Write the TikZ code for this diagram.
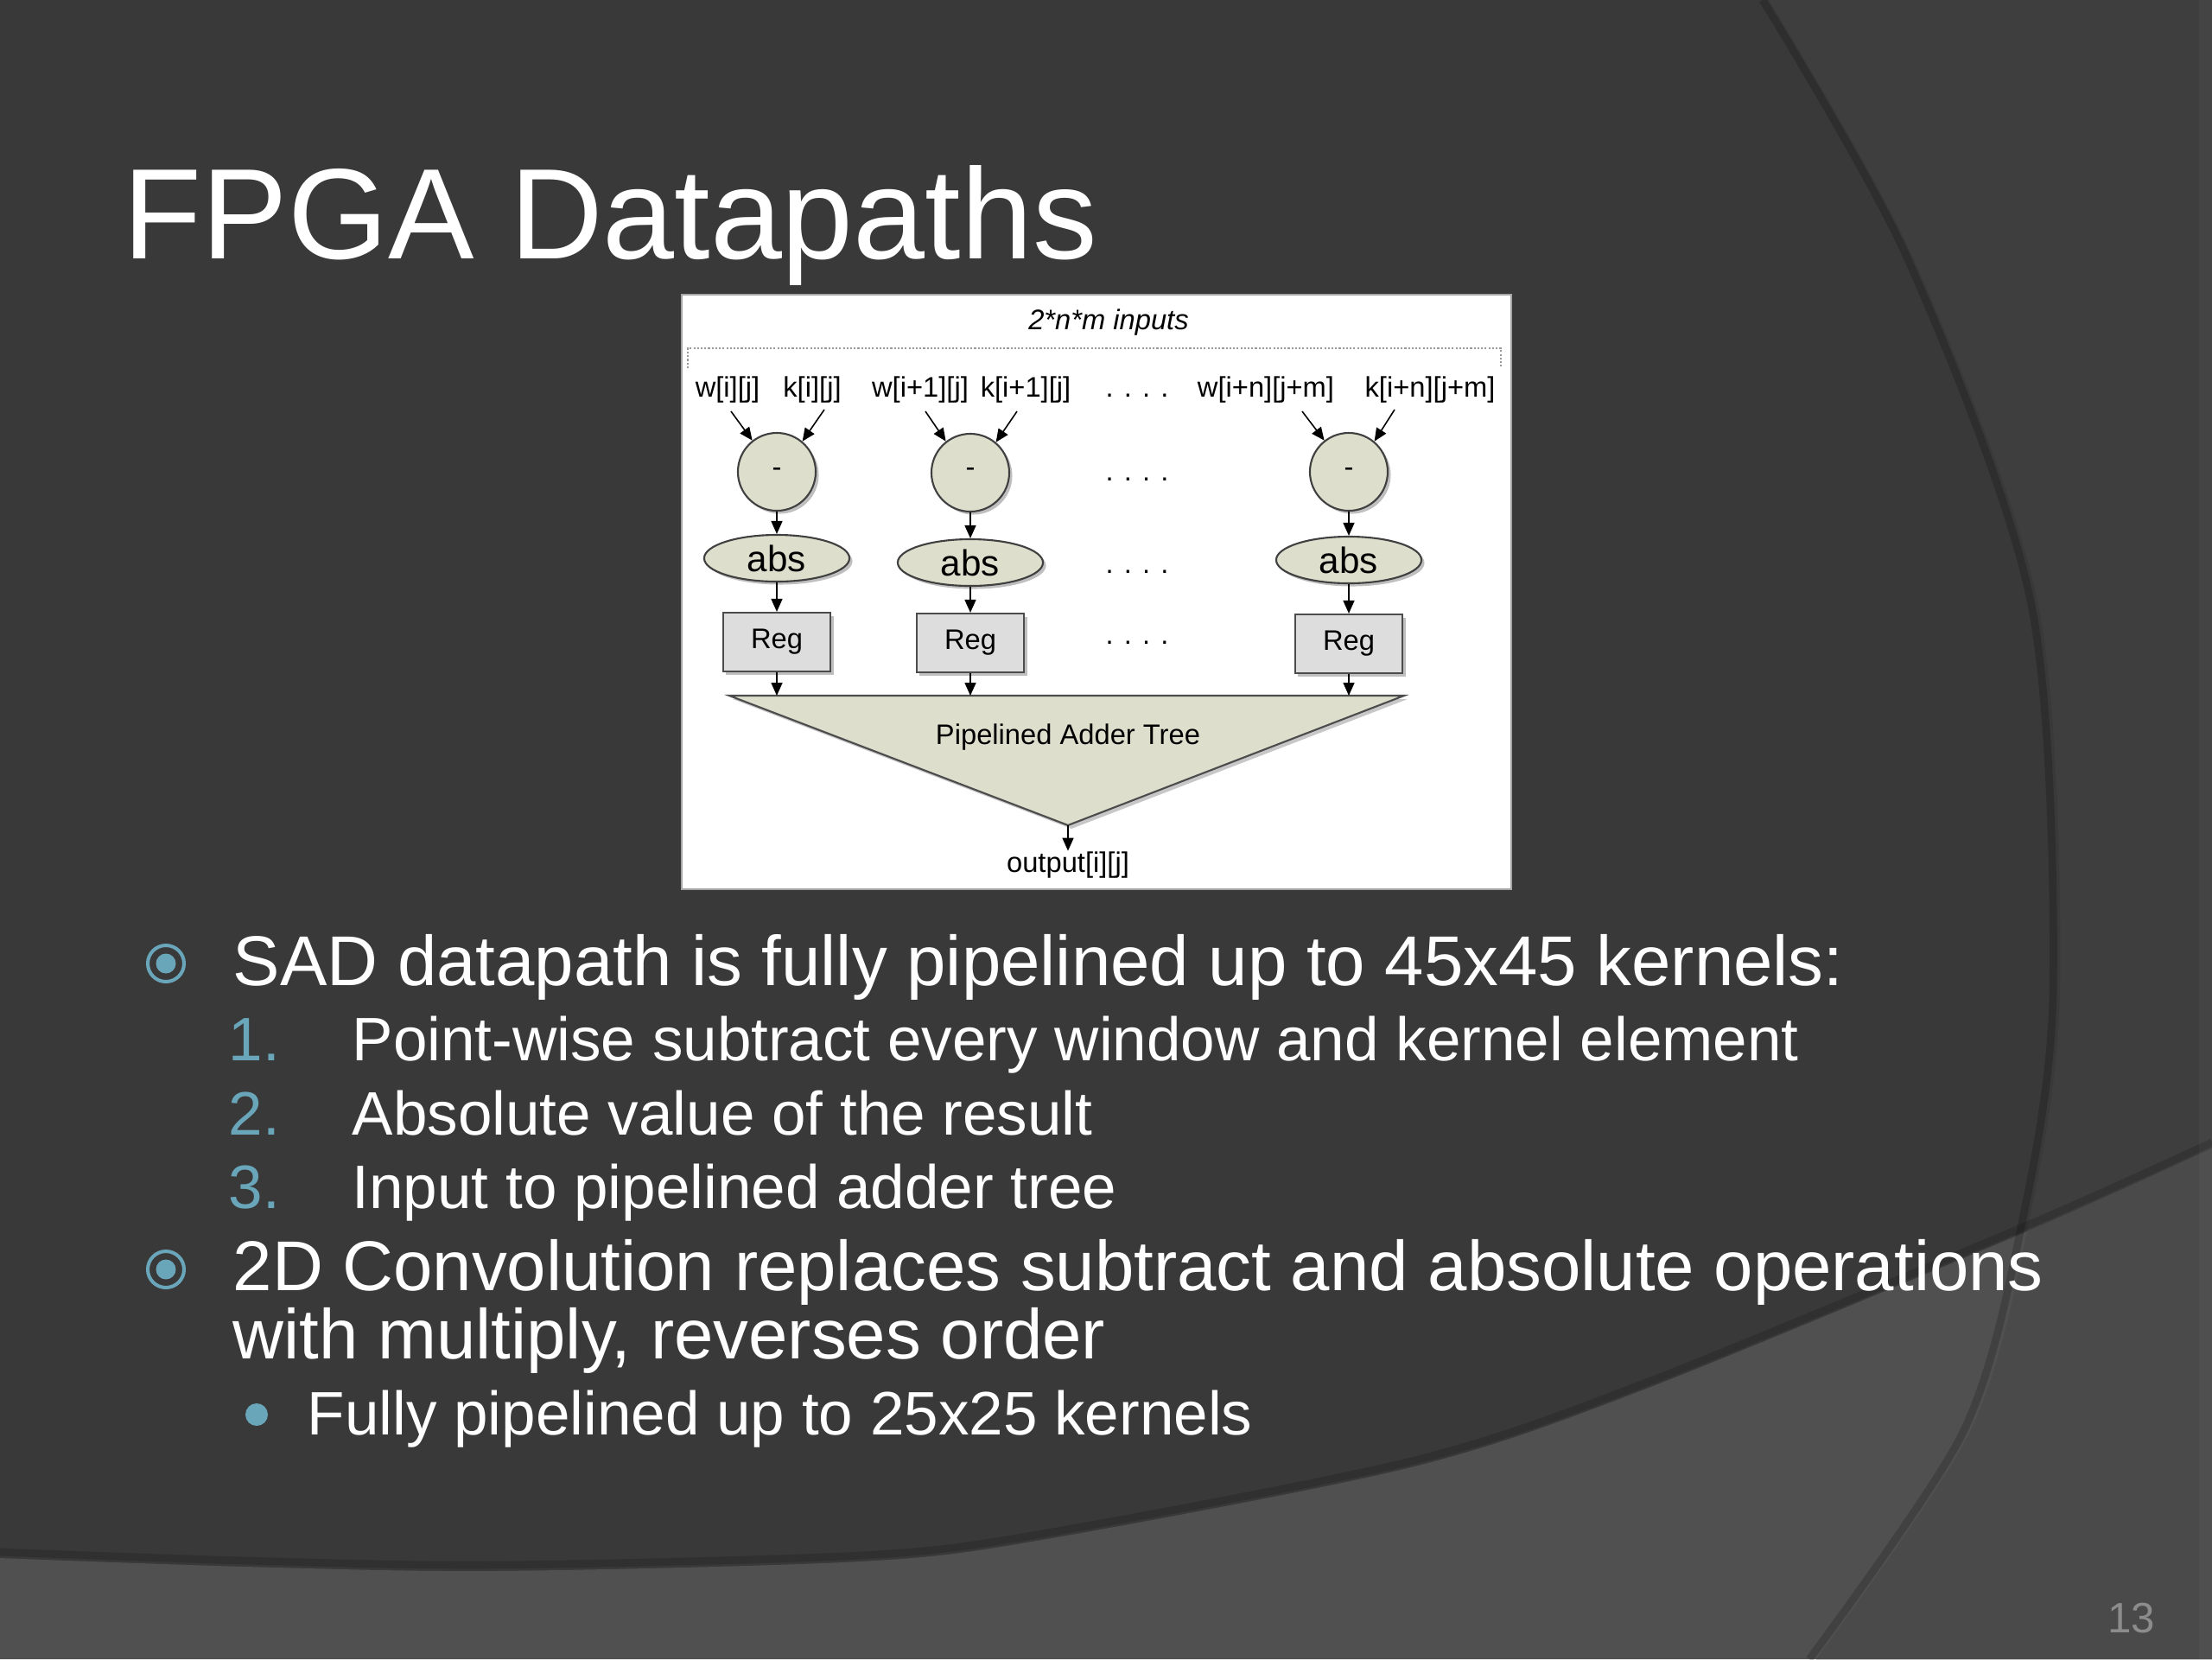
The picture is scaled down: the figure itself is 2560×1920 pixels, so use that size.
\documentclass[tikz,border=0pt]{standalone}
\usepackage{fontspec}
\setmainfont{Liberation Sans}
\usetikzlibrary{arrows.meta,shadows,calc,shapes.geometric}
\definecolor{bgmain}{RGB}{57,57,57}
\definecolor{bgright}{RGB}{62,62,62}
\definecolor{bglow}{RGB}{80,80,80}
\definecolor{bglowr}{RGB}{74,74,74}
\definecolor{accent}{RGB}{106,166,186}
\definecolor{opfill}{RGB}{221,222,204}
\definecolor{regfill}{RGB}{221,221,221}
\definecolor{pgnum}{RGB}{140,140,140}
\tikzset{
  lbl/.style={font=\fontsize{9.3}{11}\selectfont, inner sep=0pt, text=black},
  shad/.style={drop shadow={shadow xshift=0.035cm, shadow yshift=-0.035cm, fill=black!55, opacity=0.45}},
  opc/.style={circle, draw=black!75, line width=0.6pt, fill=opfill, minimum size=0.9cm, inner sep=0pt, font=\fontsize{9.3}{11}\selectfont, shad},
  absn/.style={ellipse, draw=black!75, line width=0.6pt, fill=opfill, minimum width=1.68cm, minimum height=0.54cm, inner sep=0pt, font=\fontsize{12}{14}\selectfont, shad},
  regn/.style={rectangle, draw=black!70, line width=0.6pt, fill=regfill, minimum width=1.24cm, minimum height=0.68cm, inner sep=0pt, font=\fontsize{9.3}{11}\selectfont, shad},
  arr/.style={line width=0.45pt, -{Triangle[length=0.15cm,width=0.13cm]}},
  ttl/.style={font=\fontsize{42.4}{50}\selectfont, text=white, inner sep=0pt, anchor=base west},
  lone/.style={font=\fontsize{23.2}{27}\selectfont, text=white, inner sep=0pt, anchor=base west},
  ltwo/.style={font=\fontsize{20.2}{24}\selectfont, text=white, inner sep=0pt, anchor=base west},
  numl/.style={font=\fontsize{20.2}{24}\selectfont, text=accent, inner sep=0pt, anchor=base west},
  dotrow/.style={lbl, anchor=base}
}
\begin{document}
\begin{tikzpicture}[x=0.01cm,y=-0.01cm]
\useasboundingbox (0,0) rectangle (2560,1920);
% background
\fill[bgmain] (0,0) rectangle (2560,1920);
\def\arcpath{(2047,0) -- plot[smooth] coordinates {(2047,0) (2215,300) (2359,700) (2384,1150) (2346,1425) (2279,1659) (2102,1920)} -- (2560,1920) -- (2560,0) -- cycle}
\def\lowpath{(0,1803) -- plot[smooth] coordinates {(0,1803) (283,1813) (574,1818) (995,1807) (1200,1783) (1633,1698) (1900,1609) (2346,1425) (2560,1329)} -- (2560,1920) -- (0,1920) -- cycle}
\fill[bgright] \arcpath;
\fill[bglow] \lowpath;
\begin{scope}
  \clip \lowpath;
  \fill[bglowr] \arcpath;
\end{scope}
\draw[black, opacity=0.18, line width=2.5pt] plot[smooth] coordinates {(2040,0) (2208,300) (2351,700) (2376,1150) (2338,1425) (2271,1659) (2094,1920)};
\draw[black, opacity=0.15, line width=2.5pt] plot[smooth] coordinates {(0,1796) (283,1806) (574,1811) (995,1800) (1200,1776) (1633,1691) (1900,1602) (2346,1418) (2560,1322)};
\fill[white, opacity=0.03] (2545,0) rectangle (2560,1920);

% title
\node[ttl] (title) at (142,299) {FPGA Datapaths};

% diagram frame
\filldraw[fill=white, draw=black!35, line width=0.5pt] (789,341) rectangle (1749,1029);
\node[lbl, anchor=base, font=\fontsize{9.3}{11}\selectfont\itshape] (inp) at (1283,381) {2*n*m inputs};
\draw[black!40, line width=0.35pt, dash pattern=on 0.6pt off 0.6pt] (796,426) -- (796,403) -- (1737,403) -- (1737,426);

% input labels
\node[lbl, anchor=base] (lw1) at (842,459) {w[i][j]};
\node[lbl, anchor=base] (lk1) at (940,459) {k[i][j]};
\node[lbl, anchor=base] (lw2) at (1065,459) {w[i+1][j]};
\node[lbl, anchor=base] (lk2) at (1187,459) {k[i+1][j]};
\node[dotrow] (d0) at (1316,459) {. . . .};
\node[lbl, anchor=base] (lw3) at (1465,459) {w[i+n][j+m]};
\node[lbl, anchor=base] (lk3) at (1655,459) {k[i+n][j+m]};

% operators
\node[opc] (c1) at (899,546) {-};
\node[opc] (c2) at (1123,547) {-};
\node[opc] (c3) at (1561,546) {-};
\node[dotrow] (d1) at (1316,556) {. . . .};

\node[absn] (a1) at (899,646) {abs};
\node[absn] (a2) at (1123,651) {abs};
\node[absn] (a3) at (1561,648) {abs};
\node[dotrow] (d2) at (1316,663) {. . . .};

\node[regn] (r1) at (899,743) {Reg};
\node[regn] (r2) at (1123,744) {Reg};
\node[regn] (r3) at (1561,745) {Reg};
\node[dotrow] (d3) at (1316,745) {. . . .};

% input arrows
\coordinate (s1a) at (846,476);
\coordinate (s1b) at (954,474);
\coordinate (s2a) at (1071,476);
\coordinate (s2b) at (1177,476);
\coordinate (s3a) at (1507,476);
\coordinate (s3b) at (1614,474);
\draw[arr] (s1a) -- (c1.128);
\draw[arr] (s1b) -- (c1.50);
\draw[arr] (s2a) -- (c2.128);
\draw[arr] (s2b) -- (c2.50);
\draw[arr] (s3a) -- (c3.128);
\draw[arr] (s3b) -- (c3.50);

\foreach \i in {1,2,3}{
  \draw[arr] (c\i.south) -- (a\i.north);
  \draw[arr] (a\i.south) -- (r\i.north);
}

% adder tree
\coordinate (tl) at (844,805);
\coordinate (tr) at (1625,805);
\coordinate (tb) at (1236,955);
\fill[black!55, opacity=0.4] ($(tl)+(4,4)$) -- ($(tr)+(4,4)$) -- ($(tb)+(4,4)$) -- cycle;
\filldraw[fill=opfill, draw=black!70, line width=0.6pt] (tl) -- (tr) -- (tb) -- cycle;
\node[lbl] (tt) at (1236,853) {Pipelined Adder Tree};
\foreach \i in {1,2,3}{
  \draw[arr] (r\i.south) -- (r\i.south |- tl);
}
\node[lbl, anchor=base] (out) at (1236,1009) {output[i][j]};
\draw[arr] (tb) -- (out.north);

% bullets
\draw[accent, line width=1.15pt] (192,1115) circle[radius=21];
\fill[accent] (192,1115) circle[radius=11.5];
\node[lone] (b1) at (269,1140) {SAD datapath is fully pipelined up to 45x45 kernels:};
\node[numl] (n1) at (264,1227) {1.};
\node[ltwo] (i1) at (407,1227) {Point-wise subtract every window and kernel element};
\node[numl] (n2) at (264,1313) {2.};
\node[ltwo] (i2) at (407,1313) {Absolute value of the result};
\node[numl] (n3) at (264,1398) {3.};
\node[ltwo] (i3) at (407,1398) {Input to pipelined adder tree};

\draw[accent, line width=1.15pt] (192,1469) circle[radius=21];
\fill[accent] (192,1469) circle[radius=11.5];
\node[lone] (b2) at (269,1493) {2D Convolution replaces subtract and absolute operations};
\node[lone] (b2b) at (269,1572) {with multiply, reverses order};
\fill[accent] (297,1637) circle[radius=13];
\node[ltwo] (s1) at (355,1660) {Fully pipelined up to 25x25 kernels};

% page number
\node[font=\fontsize{14}{16}\selectfont, text=pgnum, inner sep=0pt, anchor=base east] (pg) at (2495,1889) {13};
\end{tikzpicture}
\end{document}
